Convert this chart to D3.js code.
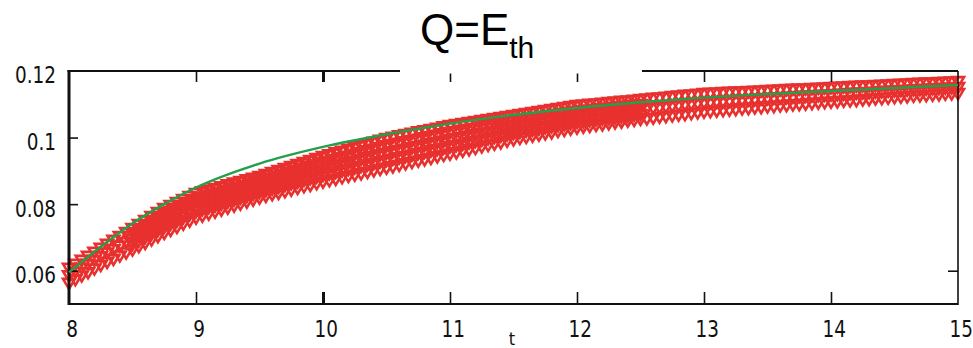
<!DOCTYPE html>
<html>
<head>
<meta charset="utf-8">
<script src="https://cdn.jsdelivr.net/npm/d3@7"></script>
<style>
  html, body { margin: 0; padding: 0; background: #fff; }
  svg { display: block; }
  .tick text { font-family: "Liberation Sans Narrow", "DejaVu Sans Condensed", "Arial Narrow", sans-serif; font-size: 23px; fill: #111; }
</style>
</head>
<body>
<svg id="chart" width="973" height="348"></svg>
<script>
// ---------------- data ----------------
const titleMain = "Q=E";
const titleSub = "th";
const xLabel = "t";
const xTicks = [8, 9, 10, 11, 12, 13, 14, 15];
const xTickLabels = ["8", "9", "10", "11", "12", "13", "14", "15"];
const yTicks = [0.06, 0.08, 0.1, 0.12];
const yTickLabels = ["0.06", "0.08", "0.1", "0.12"];

// sample times of the simulated points
const tSim = [8,8.05,8.1,8.15,8.2,8.25,8.3,8.35,8.4,8.45,8.5,8.55,8.6,8.65,8.7,8.75,8.8,8.85,8.9,8.95,
  9,9.05,9.1,9.15,9.2,9.25,9.3,9.35,9.4,9.45,9.5,9.55,9.6,9.65,9.7,9.75,9.8,9.85,9.9,9.95,
  10,10.05,10.1,10.15,10.2,10.25,10.3,10.35,10.4,10.45,10.5,10.55,10.6,10.65,10.7,10.75,10.8,10.85,10.9,10.95,
  11,11.05,11.1,11.15,11.2,11.25,11.3,11.35,11.4,11.45,11.5,11.55,11.6,11.65,11.7,11.75,11.8,11.85,11.9,11.95,
  12,12.05,12.1,12.15,12.2,12.25,12.3,12.35,12.4,12.45,12.5,12.55,12.6,12.65,12.7,12.75,12.8,12.85,12.9,12.95,
  13,13.05,13.1,13.15,13.2,13.25,13.3,13.35,13.4,13.45,13.5,13.55,13.6,13.65,13.7,13.75,13.8,13.85,13.9,13.95,
  14,14.05,14.1,14.15,14.2,14.25,14.3,14.35,14.4,14.45,14.5,14.55,14.6,14.65,14.7,14.75,14.8,14.85,14.9,14.95,15];

// simulated values, upper run
const simUpper = [.0607,.0619,.0631,.0643,.0655,.0667,.0679,.0691,.0703,.0715,.0727,.0739,.0751,.0763,.0775,.0787,.0796,.0805,.0814,.0823,
  .0832,.0837,.0842,.0847,.0852,.0858,.0863,.0868,.0873,.0878,.0883,.0889,.0895,.0901,.0907,.0913,.0919,.0925,.0931,.0937,
  .0943,.0948,.0954,.0959,.0965,.0970,.0975,.0981,.0986,.0992,.0997,.1001,.1005,.1009,.1013,.1017,.1020,.1024,.1028,.1032,
  .1036,.1039,.1042,.1045,.1048,.1051,.1054,.1057,.1060,.1063,.1066,.1069,.1072,.1075,.1078,.1081,.1084,.1087,.1090,.1093,
  .1096,.1098,.1100,.1101,.1103,.1105,.1107,.1109,.1110,.1112,.1114,.1116,.1118,.1119,.1121,.1123,.1125,.1127,.1128,.1130,
  .1132,.1133,.1134,.1135,.1136,.1137,.1137,.1138,.1139,.1140,.1141,.1142,.1143,.1144,.1145,.1146,.1146,.1147,.1148,.1149,
  .1150,.1151,.1152,.1153,.1154,.1155,.1155,.1156,.1157,.1158,.1159,.1160,.1161,.1162,.1163,.1164,.1164,.1165,.1166,.1167,.1168];

// simulated values, middle run
const simMiddle = [.0585,.0596,.0608,.0619,.0631,.0642,.0653,.0663,.0674,.0684,.0695,.0706,.0717,.0728,.0739,.0750,.0759,.0768,.0777,.0786,
  .0795,.0801,.0806,.0812,.0817,.0823,.0829,.0834,.0840,.0845,.0851,.0856,.0862,.0867,.0873,.0878,.0883,.0889,.0894,.0900,
  .0905,.0910,.0915,.0919,.0924,.0929,.0934,.0939,.0943,.0948,.0953,.0957,.0961,.0965,.0969,.0973,.0977,.0981,.0985,.0989,
  .0993,.0997,.1000,.1004,.1008,.1012,.1015,.1019,.1023,.1026,.1030,.1033,.1036,.1040,.1043,.1046,.1049,.1052,.1056,.1059,
  .1062,.1064,.1066,.1069,.1071,.1073,.1075,.1077,.1080,.1082,.1084,.1086,.1088,.1090,.1092,.1094,.1096,.1098,.1100,.1102,
  .1104,.1105,.1107,.1108,.1109,.1111,.1112,.1113,.1114,.1116,.1117,.1118,.1119,.1120,.1121,.1123,.1124,.1125,.1126,.1127,
  .1128,.1129,.1130,.1132,.1133,.1134,.1135,.1136,.1138,.1139,.1140,.1141,.1142,.1143,.1144,.1145,.1146,.1147,.1148,.1149,.1150];

// simulated values, lower run
const simLower = [.0562,.0573,.0584,.0594,.0605,.0616,.0625,.0634,.0644,.0653,.0662,.0672,.0682,.0692,.0702,.0712,.0721,.0730,.0740,.0749,
  .0758,.0764,.0770,.0776,.0782,.0788,.0794,.0800,.0806,.0812,.0818,.0823,.0828,.0832,.0837,.0842,.0847,.0852,.0856,.0861,
  .0866,.0870,.0874,.0879,.0883,.0887,.0891,.0895,.0900,.0904,.0908,.0912,.0916,.0921,.0925,.0929,.0933,.0937,.0942,.0946,
  .0950,.0954,.0959,.0963,.0967,.0972,.0976,.0980,.0984,.0989,.0993,.0997,.1000,.1004,.1007,.1011,.1014,.1018,.1021,.1025,
  .1028,.1031,.1033,.1036,.1038,.1041,.1044,.1046,.1049,.1051,.1054,.1056,.1058,.1061,.1063,.1065,.1067,.1069,.1072,.1074,
  .1076,.1078,.1079,.1081,.1082,.1084,.1086,.1087,.1089,.1090,.1092,.1093,.1095,.1096,.1098,.1099,.1100,.1102,.1103,.1105,
  .1106,.1107,.1109,.1110,.1111,.1113,.1114,.1116,.1117,.1118,.1120,.1121,.1122,.1124,.1125,.1126,.1127,.1128,.1130,.1131,.1132];

// extra runs inside the wide part of the band (t = 8.5 ... 12.5)
const tSimWide = tSim.slice(10, 91);
const simUpperMid = [.0711,.0723,.0734,.0746,.0757,.0769,.0778,.0787,.0796,.0805,
  .0814,.0819,.0825,.0830,.0835,.0841,.0846,.0851,.0856,.0862,
  .0867,.0873,.0878,.0884,.0890,.0896,.0901,.0907,.0913,.0918,
  .0924,.0929,.0934,.0939,.0944,.0950,.0955,.0960,.0965,.0970,
  .0975,.0979,.0983,.0987,.0991,.0995,.0999,.1003,.1007,.1011,
  .1015,.1018,.1022,.1025,.1028,.1032,.1035,.1038,.1041,.1045,
  .1048,.1051,.1054,.1057,.1060,.1064,.1067,.1070,.1073,.1076,
  .1079,.1081,.1083,.1085,.1087,.1089,.1091,.1093,.1095,.1097,.1099];
const simLowerMid = [.0679,.0689,.0700,.0710,.0721,.0731,.0740,.0749,.0759,.0768,
  .0777,.0783,.0789,.0794,.0800,.0806,.0812,.0818,.0823,.0829,
  .0835,.0840,.0845,.0850,.0855,.0861,.0866,.0871,.0876,.0881,
  .0886,.0891,.0895,.0900,.0904,.0909,.0913,.0918,.0922,.0927,
  .0931,.0935,.0939,.0943,.0947,.0952,.0956,.0960,.0964,.0968,
  .0972,.0976,.0980,.0984,.0988,.0992,.0996,.1000,.1004,.1008,
  .1012,.1015,.1019,.1022,.1025,.1029,.1032,.1035,.1038,.1042,
  .1045,.1047,.1050,.1052,.1055,.1057,.1059,.1062,.1064,.1067,.1069];

// reference (smooth) solution
const tRef = [8, 8.25, 8.5, 8.75, 9, 9.5, 10, 10.5, 11, 11.5, 12, 12.5, 13, 13.5, 14, 14.5, 15];
const vRef = [.0595, .0672, .0742, .0800, .0850, .0922, .0972, .1010, .1042, .1068, .1089, .1106, .1120, .1131, .1140, .1149, .1158];

// ---------------- drawing ----------------
const svg = d3.select("#chart");
const L = 69, R = 958, T = 71, B = 304;
const x = d3.scaleLinear().domain([8, 15]).range([L, R]);
const y = d3.scaleLinear().domain([0.05, 0.12]).range([B, T]);

const red = "#e8302e";
const green = "#22a04c";

// simulated points (down triangles)
const tri = "M-6,-4.5L6,-4.5L0,5.5Z";
const runs = [
  { t: tSim, v: simUpper }, { t: tSimWide, v: simUpperMid }, { t: tSim, v: simMiddle },
  { t: tSimWide, v: simLowerMid }, { t: tSim, v: simLower }
];
const pts = [];
runs.forEach(run => run.v.forEach((v, i) => pts.push({ t: run.t[i], v: v })));
svg.append("g").selectAll("path").data(pts).join("path")
  .attr("d", tri)
  .attr("transform", d => `translate(${x(d.t)},${y(d.v)})`)
  .attr("fill", "none")
  .attr("stroke", red)
  .attr("stroke-width", 2.6);

// axes (ticks inward)
const fmtX = d => xTickLabels[xTicks.indexOf(d)];
const fmtY = d => yTickLabels[yTicks.indexOf(d)];

const gB = svg.append("g").attr("transform", `translate(0,${B})`)
  .call(d3.axisBottom(x).tickValues(xTicks).tickFormat(fmtX).tickSize(-12).tickSizeOuter(0).tickPadding(17));
const gT = svg.append("g").attr("transform", `translate(0,${T})`)
  .call(d3.axisTop(x).tickValues(xTicks.slice(1, -1)).tickFormat("").tickSize(-11).tickSizeOuter(0));
const gL = svg.append("g").attr("transform", `translate(${L},0)`)
  .call(d3.axisLeft(y).tickValues(yTicks).tickFormat(fmtY).tickSize(-9).tickSizeOuter(0).tickPadding(14.6));
const gR = svg.append("g").attr("transform", `translate(${R},0)`)
  .call(d3.axisRight(y).tickValues([0.06]).tickFormat("").tickSize(-10).tickSizeOuter(0));

[gB, gT, gL, gR].forEach(g => {
  g.select(".domain").remove();
  g.selectAll(".tick line").attr("stroke", "#111").attr("stroke-width", 1.6);
});
gB.selectAll(".tick").filter(d => d === 8 || d === 15).select("line").remove();
gB.selectAll(".tick").filter(d => d === 10).select("line").attr("stroke-width", 3);
gT.selectAll(".tick").filter(d => d === 10).select("line").attr("stroke-width", 3);
gL.selectAll(".tick").filter(d => d === 0.12).select("line").remove();
gB.selectAll(".tick text").attr("dx", 3).attr("transform", "scale(0.89,1)");
gL.selectAll(".tick text").attr("dy", "0.52em").attr("transform", "scale(0.89,1)");

// frame
svg.append("line").attr("x1", L).attr("x2", R).attr("y1", B).attr("y2", B).attr("stroke", "#111").attr("stroke-width", 2.2);
svg.append("line").attr("x1", L - 1.5).attr("x2", R).attr("y1", T).attr("y2", T).attr("stroke", "#111").attr("stroke-width", 2.2);
svg.append("line").attr("x1", L).attr("x2", L).attr("y1", T - 1).attr("y2", B + 1).attr("stroke", "#111").attr("stroke-width", 3);
svg.append("line").attr("x1", R).attr("x2", R).attr("y1", T).attr("y2", B + 1).attr("stroke", "#111").attr("stroke-width", 1.6);

// title backdrop and title
svg.append("rect").attr("x", 400).attr("y", 0).attr("width", 242).attr("height", 73.5).attr("fill", "#fff");
const title = svg.append("text")
  .attr("x", 420).attr("y", 45)
  .attr("font-family", "'Liberation Sans', Arial, sans-serif")
  .attr("font-size", 44).attr("fill", "#000");
title.append("tspan").text(titleMain);
title.append("tspan").attr("dy", 13).attr("font-size", 30).text(titleSub);

// reference curve
svg.append("path")
  .datum(tRef.map((t, i) => [t, vRef[i]]))
  .attr("d", d3.line().x(d => x(d[0])).y(d => y(d[1])).curve(d3.curveMonotoneX))
  .attr("fill", "none").attr("stroke", green).attr("stroke-width", 2.4);

// x label
svg.append("text").attr("x", 512).attr("y", 345).attr("text-anchor", "middle")
  .attr("font-family", "'Liberation Sans Narrow', 'DejaVu Sans Condensed', sans-serif")
  .attr("font-size", 18).attr("fill", "#111").text(xLabel);
</script>
</body>
</html>
